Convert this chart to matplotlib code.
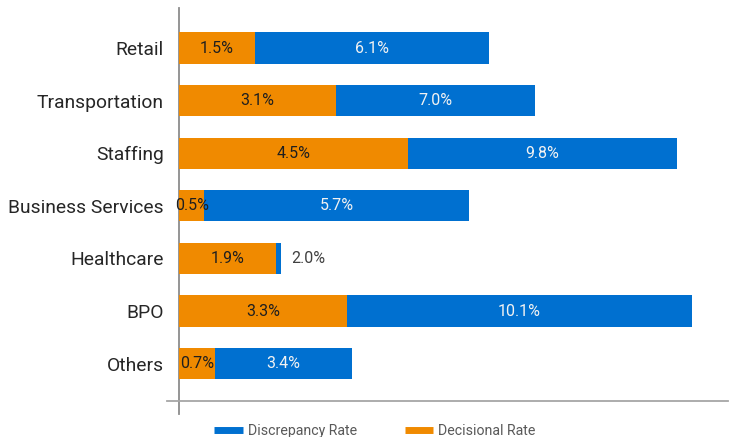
import matplotlib
matplotlib.use("Agg")
import matplotlib.pyplot as plt
from matplotlib.lines import Line2D

categories = ["Retail", "Transportation", "Staffing", "Business Services",
              "Healthcare", "BPO", "Others"]
decisional = [1.5, 3.1, 4.5, 0.5, 1.9, 3.3, 0.7]
discrepancy = [6.1, 7.0, 9.8, 5.7, 2.0, 10.1, 3.4]

ORANGE = "#F08A00"
BLUE = "#0070D0"

plt.rcParams['font.family'] = ['Roboto', 'DejaVu Sans']

W, H = 729, 437
fig = plt.figure(figsize=(W / 100, H / 100), dpi=100)
left_px, right_px, top_px, bot_px = 179, 728, 8, 414
ax = fig.add_axes([left_px / W, 1 - bot_px / H, (right_px - left_px) / W, (bot_px - top_px) / H])

pxu = 50.8
ax.set_xlim(0, (right_px - left_px) / pxu)
y0, dy = 48, 52.6
ax.set_ylim((bot_px - y0) / dy, (top_px - y0) / dy)

ypos = list(range(len(categories)))
ax.barh(ypos, discrepancy, height=0.59, color=BLUE, zorder=2)
ax.barh(ypos, decisional, height=0.59, color=ORANGE, zorder=3)

for y, d, t in zip(ypos, decisional, discrepancy):
    ax.text(d / 2, y, f"{d:.1f}%", ha="center", va="center", fontsize=11.5,
            color="#1F1F1F", zorder=4)
    if t - d > 0.6:
        ax.text((d + t) / 2, y, f"{t:.1f}%", ha="center", va="center",
                fontsize=11.5, color="#F2F2F2", zorder=4)
    else:
        ax.text(t + 0.2, y, f"{t:.1f}%", ha="left", va="center",
                fontsize=11.5, color="#404040", zorder=4)

ax.set_yticks(ypos)
ax.set_yticklabels(categories, fontsize=13.9, color="#262626")
ax.tick_params(axis="y", length=0, pad=11)
ax.set_xticks([])
for s in ax.spines.values():
    s.set_visible(False)

# axis lines
ax.plot([0, 0], [ax.get_ylim()[0], ax.get_ylim()[1]], color="#8C8C8C", lw=1.3,
        clip_on=False, zorder=1)
yl = (401 - y0) / dy
ax.plot([-12 / pxu, (right_px - left_px) / pxu], [yl, yl], color="#A6A6A6",
        lw=1.3, clip_on=False, zorder=1)

handles = [Line2D([], [], color=BLUE, lw=5, solid_capstyle="butt"),
           Line2D([], [], color=ORANGE, lw=5, solid_capstyle="butt")]
fig.legend(handles, ["Discrepancy Rate", "Decisional Rate"], loc="center",
           bbox_to_anchor=(375 / W, 1 - 431 / H), ncol=2, frameon=False,
           fontsize=10.2, labelcolor="#595959", handlelength=2.0,
           handletextpad=0.35, columnspacing=3.4)

fig.savefig("out.png", dpi=100)
